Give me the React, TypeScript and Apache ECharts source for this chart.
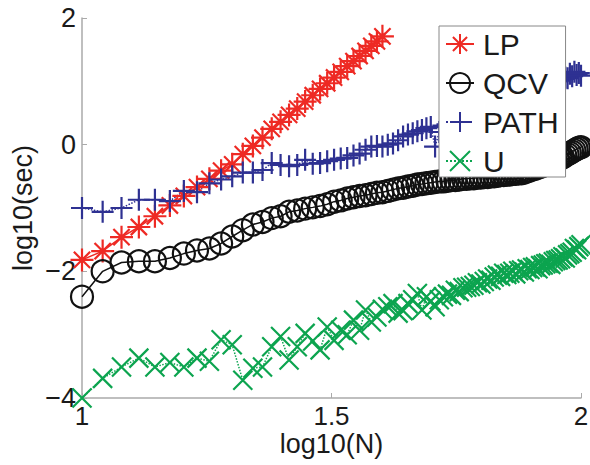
import React, { useEffect, useRef } from "react";
import * as echarts from "echarts";

const nValues = [
  10, 11, 12, 13, 14, 15, 16, 17, 18, 19,
  20, 21, 22, 23, 24, 25, 26, 27, 28, 29,
  30, 31, 32, 33, 34, 35, 36, 37, 38, 39,
  40, 41, 42, 43, 44, 45, 46, 47, 48, 49,
  50, 51, 52, 53, 54, 55, 56, 57, 58, 59,
  60, 61, 62, 63, 64, 65, 66, 67, 68, 69,
  70, 71, 72, 73, 74, 75, 76, 77, 78, 79,
  80, 81, 82, 83, 84, 85, 86, 87, 88, 89,
  90, 91, 92, 93, 94, 95, 96, 97, 98, 99,
  100,
];

// log10(sec) for N = 10..40
const lpSec = [
  -1.82, -1.68, -1.46, -1.30, -1.13, -0.96, -0.81, -0.67, -0.54, -0.41,
  -0.31, -0.15, -0.02, 0.11, 0.25, 0.36, 0.47, 0.57, 0.68, 0.78,
  0.88, 0.97, 1.06, 1.15, 1.24, 1.32, 1.40, 1.48, 1.56, 1.63,
  1.71,
];

const qcvSec = [
  -2.40, -2.00, -1.86, -1.84, -1.84, -1.79, -1.72, -1.67, -1.64, -1.56,
  -1.45, -1.35, -1.26, -1.22, -1.16, -1.13, -1.06, -1.04, -1.01, -0.99,
  -0.97, -0.94, -0.90, -0.88, -0.85, -0.83, -0.81, -0.80, -0.78, -0.76,
  -0.75, -0.73, -0.71, -0.69, -0.68, -0.66, -0.65, -0.63, -0.62, -0.61,
  -0.60, -0.59, -0.58, -0.58, -0.57, -0.56, -0.56, -0.55, -0.54, -0.54,
  -0.53, -0.53, -0.52, -0.52, -0.51, -0.51, -0.50, -0.50, -0.49, -0.48,
  -0.48, -0.47, -0.47, -0.46, -0.46, -0.45, -0.45, -0.44, -0.42, -0.41,
  -0.39, -0.38, -0.36, -0.35, -0.33, -0.32, -0.30, -0.29, -0.28, -0.26,
  -0.24, -0.22, -0.20, -0.17, -0.15, -0.13, -0.11, -0.09, -0.07, -0.05,
  -0.04,
];

const pathSec = [
  -1.00, -1.06, -1.00, -0.87, -0.87, -0.89, -0.73, -0.75, -0.61, -0.55,
  -0.50, -0.44, -0.44, -0.40, -0.29, -0.32, -0.34, -0.32, -0.24, -0.30,
  -0.29, -0.26, -0.24, -0.22, -0.21, -0.17, -0.14, -0.08, -0.03, -0.02,
  -0.03, 0.00, 0.02, 0.07, 0.13, 0.16, 0.18, 0.21, 0.23, 0.26,
  0.28, -0.03, 0.20, 0.30, 0.32, 0.35, 0.33, 0.38, 0.40, 0.42,
  0.45, 0.43, 0.48, 0.50, 0.52, 0.55, 0.53, 0.58, 0.60, 0.62,
  0.64, 0.66, 0.65, 0.70, 0.72, 0.74, 0.76, 0.75, 0.80, 0.82,
  0.84, 0.86, 0.88, 0.87, 0.91, 0.93, 0.95, 0.97, 0.96, 1.00,
  1.01, 1.03, 1.04, 1.06, 1.05, 1.12, 1.08, 1.15, 1.10, 1.13,
  1.09,
];

const uSec = [
  -4.00, -3.69, -3.51, -3.37, -3.51, -3.44, -3.51, -3.37, -3.42, -3.08,
  -3.16, -3.72, -3.53, -3.51, -3.19, -3.03, -3.40, -3.19, -2.98, -3.10,
  -3.24, -2.88, -3.09, -2.93, -3.00, -2.77, -2.93, -2.61, -2.80, -2.72,
  -2.60, -2.56, -2.51, -2.66, -2.62, -2.51, -2.45, -2.35, -2.61, -2.40,
  -2.47, -2.56, -2.45, -2.40, -2.36, -2.38, -2.30, -2.32, -2.26, -2.25,
  -2.24, -2.22, -2.18, -2.20, -2.16, -2.12, -2.14, -2.09, -2.06, -2.08,
  -2.03, -2.05, -2.03, -2.00, -2.04, -1.99, -1.98, -2.01, -1.96, -1.97,
  -1.94, -1.93, -1.96, -1.91, -1.90, -1.88, -1.87, -1.89, -1.85, -1.83,
  -1.82, -1.80, -1.77, -1.79, -1.74, -1.72, -1.70, -1.64, -1.66, -1.61,
  -1.58,
];

const seriesNames = ["LP", "QCV", "PATH", "U"];
const xTicks = [1, 1.5, 2];
const yTicks = [-4, -2, 0, 2];

const RED = "#ee2a24";
const BLACK = "#111111";
const BLUE = "#2e3192";
const GREEN = "#0ca44f";
const FONT = "'Liberation Sans', Arial, Helvetica, sans-serif";

const STAR = "path://M0,-10L0,10M-10,0L10,0M-7.07,-7.07L7.07,7.07M-7.07,7.07L7.07,-7.07";
const PLUS = "path://M0,-10L0,10M-10,0L10,0";
const CROSS = "path://M-10,-10L10,10M-10,10L10,-10";

const toPoints = (vals: number[]) => vals.map((v, i) => [Math.log10(nValues[i]), v]);

export default function App() {
  const ref = useRef<HTMLDivElement>(null);
  useEffect(() => {
    document.body.style.margin = "0";
    if (!ref.current) return;
    const chart = echarts.init(ref.current, undefined, { renderer: "svg" });
    const minus = (v: number) => (v < 0 ? "\u2212" + Math.abs(v) : String(v));
    const mk = (name: string, vals: number[], symbol: string, size: number, color: string, dotted: boolean) => ({
      name,
      type: "line",
      data: toPoints(vals),
      symbol,
      symbolSize: size,
      showAllSymbol: true,
      lineStyle: { color, width: 1.5, type: dotted ? "dotted" : "solid" },
      itemStyle: { color: "rgba(0,0,0,0)", borderColor: color, borderWidth: 2.2 },
      emphasis: { disabled: true },
    });
    chart.setOption({
      animation: false,
      textStyle: { fontFamily: FONT },
      grid: { left: 82, right: 9, top: 18, bottom: 67, outerBoundsMode: "none", containLabel: false },
      xAxis: {
        type: "value",
        min: 1,
        max: 2,
        interval: 0.5,
        name: "log10(N)",
        nameLocation: "middle",
        nameGap: 33,
        nameMoveOverlap: false,
        nameTextStyle: { fontSize: 27, lineHeight: 26, color: "#1a1a1a", fontFamily: FONT },
        axisLine: { show: true, onZero: false, lineStyle: { color: "#aaaaaa", width: 1.5 } },
        axisTick: { show: true, inside: true, length: 5, lineStyle: { color: "#aaaaaa" } },
        axisLabel: {
          fontSize: 26,
          lineHeight: 26,
          color: "#1a1a1a",
          margin: 5,
          hideOverlap: false,
          formatter: (v: number) => (xTicks.includes(v) ? String(v) : ""),
        },
        splitLine: { show: false },
      },
      yAxis: {
        type: "value",
        min: -4,
        max: 2,
        interval: 2,
        name: "log10(sec)",
        nameLocation: "middle",
        nameGap: 46,
        nameMoveOverlap: false,
        nameTextStyle: { fontSize: 27, color: "#1a1a1a", fontFamily: FONT },
        axisLine: { show: true, onZero: false, lineStyle: { color: "#aaaaaa", width: 1.5 } },
        axisTick: { show: true, inside: true, length: 5, lineStyle: { color: "#aaaaaa" } },
        axisLabel: {
          fontSize: 27,
          color: "#1a1a1a",
          margin: 6,
          hideOverlap: false,
          formatter: (v: number) => (yTicks.includes(v) ? minus(v) : ""),
        },
        splitLine: { show: false },
      },
      legend: {
        data: seriesNames,
        orient: "vertical",
        left: 439,
        top: 26,
        padding: [3, 7, 1, 6],
        itemGap: 9,
        itemWidth: 28,
        itemHeight: 25,
        backgroundColor: "#ffffff",
        borderColor: "#888888",
        borderWidth: 1,
        borderRadius: 0,
        selectedMode: false,
        textStyle: { fontSize: 30, color: "#1a1a1a", fontFamily: FONT, padding: [0, 0, 0, 4] },
      },
      series: [
        mk(seriesNames[0], lpSec, STAR, 23, RED, false),
        mk(seriesNames[1], qcvSec, "circle", 22, BLACK, false),
        mk(seriesNames[2], pathSec, PLUS, 22, BLUE, true),
        mk(seriesNames[3], uSec, CROSS, 19, GREEN, true),
      ],
    });
    return () => chart.dispose();
  }, []);
  return <div ref={ref} style={{ width: 590, height: 465 }} />;
}
